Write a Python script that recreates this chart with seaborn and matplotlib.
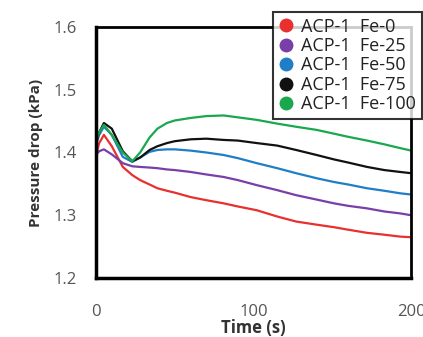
import numpy as np
import pandas as pd
import matplotlib
matplotlib.use('Agg')
import matplotlib.pyplot as plt
from matplotlib.lines import Line2D
import seaborn as sns

# values
time_s = [0, 2, 5, 10, 17, 23, 28, 34, 39, 45, 50, 60, 70, 81, 90, 102,
          115, 127, 140, 151, 160, 172, 183, 193, 200]
fe_0 = [1.395, 1.415, 1.428, 1.410, 1.377, 1.364, 1.356, 1.349, 1.343, 1.339,
        1.336, 1.329, 1.324, 1.319, 1.314, 1.308, 1.298, 1.290, 1.285, 1.281,
        1.277, 1.272, 1.269, 1.266, 1.265]
fe_25 = [1.396, 1.402, 1.405, 1.397, 1.383, 1.378, 1.377, 1.376, 1.375, 1.373,
         1.372, 1.369, 1.365, 1.361, 1.356, 1.348, 1.340, 1.332, 1.325, 1.319,
         1.315, 1.311, 1.306, 1.303, 1.300]
fe_50 = [1.412, 1.428, 1.441, 1.428, 1.393, 1.385, 1.392, 1.401, 1.404, 1.405,
         1.405, 1.403, 1.400, 1.396, 1.391, 1.383, 1.375, 1.367, 1.359, 1.353,
         1.349, 1.343, 1.339, 1.335, 1.333]
fe_75 = [1.415, 1.432, 1.447, 1.438, 1.402, 1.386, 1.392, 1.404, 1.410, 1.415,
         1.418, 1.421, 1.422, 1.420, 1.419, 1.415, 1.411, 1.404, 1.396, 1.389,
         1.384, 1.377, 1.372, 1.369, 1.367]
fe_100 = [1.418, 1.432, 1.444, 1.428, 1.400, 1.386, 1.400, 1.424, 1.438, 1.447,
          1.451, 1.455, 1.458, 1.459, 1.456, 1.452, 1.446, 1.441, 1.436, 1.430,
          1.425, 1.419, 1.413, 1.407, 1.403]

labels = ["ACP-1  Fe-0", "ACP-1  Fe-25", "ACP-1  Fe-50", "ACP-1  Fe-75", "ACP-1  Fe-100"]
colors = ["#e8302e", "#7a3ea8", "#1e7ec6", "#111111", "#19a84e"]

df = pd.DataFrame({
    "time": time_s * 5,
    "dp": fe_0 + fe_25 + fe_50 + fe_75 + fe_100,
    "sample": np.repeat(labels, len(time_s)),
})

sns.set_theme(style="white")
plt.rcParams['font.family'] = ['Open Sans', 'DejaVu Sans']

fig = plt.figure(figsize=(4.23, 3.37), dpi=100)
ax = fig.add_axes([0.227, 0.175, 0.745, 0.745])

sns.lineplot(data=df, x="time", y="dp", hue="sample", hue_order=labels,
             palette=dict(zip(labels, colors)), linewidth=1.6, legend=False, ax=ax)

ax.set_xlim(0, 200)
ax.set_ylim(1.2, 1.6)
ax.set_xticks([0, 100, 200])
ax.set_yticks([1.2, 1.3, 1.4, 1.5, 1.6])
ax.set_yticklabels(["1.2", "1.3", "1.4", "1.5", "1.6"])
ax.tick_params(axis="both", direction="in", length=4, width=2, colors="black",
               labelcolor="#555555", labelsize=12)
ax.tick_params(axis="x", pad=19)
ax.tick_params(axis="y", pad=14)

for side in ["left", "bottom"]:
    ax.spines[side].set_linewidth(2.5)
for side in ["top", "right"]:
    ax.spines[side].set_linewidth(2)
for sp in ax.spines.values():
    sp.set_color("black")

ax.set_xlabel("Time (s)", fontsize=12, fontweight="bold", color="#333333", labelpad=-1)
ax.set_ylabel("Pressure drop (kPa)", fontsize=11, fontweight="bold", color="#333333", labelpad=7)

handles = [Line2D([], [], marker="o", linestyle="none", markersize=9,
                  markerfacecolor=c, markeredgecolor=c) for c in colors]
leg = fig.legend(handles, labels, loc="upper right", bbox_to_anchor=(0.997, 0.964),
                 bbox_transform=fig.transFigure,
                 fontsize=13, frameon=True, fancybox=False, borderpad=0.3,
                 labelspacing=0.08, handlelength=0.9, handletextpad=0.4,
                 borderaxespad=0)
leg.get_frame().set_edgecolor("black")
leg.get_frame().set_linewidth(1.5)
for t in leg.get_texts():
    t.set_color("#222222")

fig.savefig("out.png", dpi=100)
